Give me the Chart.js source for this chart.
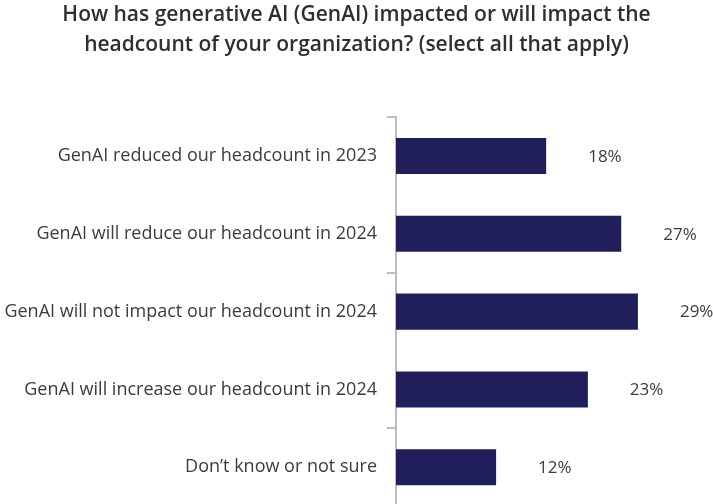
<!DOCTYPE html>
<html>
<head>
<meta charset="utf-8">
<script src="https://cdn.jsdelivr.net/npm/chart.js@4/dist/chart.umd.min.js"></script>
<style>
  html,body{margin:0;padding:0;background:#fff;overflow:hidden;}
  #wrap{width:713px;height:527px;position:relative;}
</style>
</head>
<body>
<div id="wrap"><canvas id="chart"></canvas></div>
<script>
// GenAI и численность персонала — горизонтальные бары, подписи значений справа
const TITLE_LINES = [
  "How has generative AI (GenAI) impacted or will impact the",
  "headcount of your organization? (select all that apply)"
];
const CATEGORIES = [
  "GenAI reduced our headcount in 2023",
  "GenAI will reduce our headcount in 2024",
  "GenAI will not impact our headcount in 2024",
  "GenAI will increase our headcount in 2024",
  "Don\u2019t know or not sure"
];
const VALUES = [18, 27, 29, 23, 12];

const BAR_COLOR = "#201e5b";
const TEXT_COLOR = "#3b3b3b";
const AXIS_COLOR = "#bdbdbd";

const valueLabels = {
  id:"valueLabels",
  afterDatasetsDraw(chart){
    const { ctx } = chart;
    const meta = chart.getDatasetMeta(0);
    ctx.save();
    ctx.font = "17px 'Open Sans', sans-serif";
    ctx.fillStyle = TEXT_COLOR;
    ctx.textAlign = "left"; ctx.textBaseline = "middle";
    meta.data.forEach((el, i)=>{
      ctx.fillText(VALUES[i] + "%", el.x + 42, el.y + 1);
    });
    ctx.restore();
  }
};

new Chart(document.getElementById("chart"), {
  type:"bar",
  data:{
    labels: CATEGORIES,
    datasets:[{ data: VALUES, backgroundColor: BAR_COLOR, borderWidth:0,
      barPercentage:0.463, categoryPercentage:1 }]
  },
  options:{
    indexAxis:"y",
    responsive:true, maintainAspectRatio:false, animation:false,
    layout:{ padding:{ top:0, right:0, bottom:4, left:0 } },
    plugins:{
      legend:{ display:false },
      tooltip:{ enabled:false },
      title:{ display:true, text: TITLE_LINES, color:"#2f2f2f",
        font:{ family:"'Open Sans', sans-serif", size:21, weight:"600", lineHeight:1.43 },
        padding:{ top:0, bottom:57 } }
    },
    scales:{
      x:{ display:false, min:0, max:38 },
      y:{
        offset:true,
        afterFit(scale){ scale.width = 396; },
        border:{ display:true, color:AXIS_COLOR, width:2 },
        grid:{ drawOnChartArea:false, drawTicks:true, tickLength:9, lineWidth:2,
          color: c => (c.index % 2 === 0 ? AXIS_COLOR : "rgba(0,0,0,0)") },
        ticks:{ color:TEXT_COLOR, padding:10,
          font:{ family:"'Open Sans', sans-serif", size:18 } }
      }
    }
  },
  plugins:[valueLabels]
});
</script>
</body>
</html>
